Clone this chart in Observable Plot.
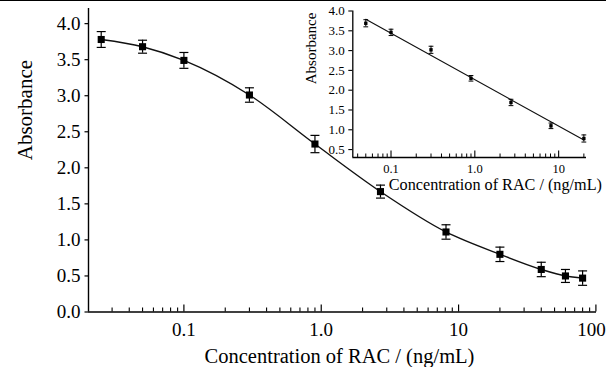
<!DOCTYPE html>
<html><head><meta charset="utf-8">
<script src="https://cdn.jsdelivr.net/npm/d3@7"></script>
<script src="https://cdn.jsdelivr.net/npm/@observablehq/plot@0.6"></script>
<style>
body{margin:0;background:#fff;}
#wrap{position:relative;width:606px;height:367px;overflow:hidden;background:#fff;}
#topline{position:absolute;left:0;top:0;width:606px;height:1px;background:#000;}
#main{position:absolute;left:0;top:0;}
#inset{position:absolute;left:290px;top:0;}
svg{background:transparent !important;}
</style></head><body>
<div id="wrap"><div id="main"></div><div id="inset"></div><div id="topline"></div></div>
<script>
// ---- data ----
const concMain = [0.025, 0.05, 0.1, 0.3, 0.9, 2.7, 8.1, 20, 40, 60, 80];
const absMain  = [3.78, 3.68, 3.49, 3.01, 2.33, 1.67, 1.11, 0.80, 0.59, 0.50, 0.47];
const errMain  = [0.11, 0.09, 0.11, 0.10, 0.12, 0.09, 0.10, 0.10, 0.10, 0.09, 0.10];

const concInset = [0.05, 0.1, 0.3, 0.9, 2.7, 8.1, 20];
const absInset  = [3.69, 3.46, 3.02, 2.30, 1.69, 1.10, 0.78];
const errInset  = [0.09, 0.08, 0.09, 0.07, 0.08, 0.07, 0.09];

const fitConc = [0.05, 20];
const fitAbs  = [3.79, 0.74];

const mainXTicks = [0.1, 1, 10, 100];
const mainXTickLabels = ["0.1", "1.0", "10", "100"];
const mainXMinor = [0.03,0.04,0.05,0.06,0.07,0.08,0.09, 0.2,0.3,0.4,0.5,0.6,0.7,0.8,0.9, 2,3,4,5,6,7,8,9, 20,30,40,50,60,70,80,90];
const mainYTicks = [0, 0.5, 1, 1.5, 2, 2.5, 3, 3.5, 4];
const mainYTickLabels = ["0.0","0.5","1.0","1.5","2.0","2.5","3.0","3.5","4.0"];

const insetXTicks = [0.1, 1, 10];
const insetXTickLabels = ["0.1", "1.0", "10"];
const insetXMinor = [0.04,0.05,0.06,0.07,0.08,0.09, 0.2,0.3,0.4,0.5,0.6,0.7,0.8,0.9, 2,3,4,5,6,7,8,9, 20];
const insetYTicks = [0.5, 1, 1.5, 2, 2.5, 3, 3.5, 4];
const insetYTickLabels = ["0.5","1.0","1.5","2.0","2.5","3.0","3.5","4.0"];

const xLabel = "Concentration of RAC / (ng/mL)";
const yLabel = "Absorbance";

// ---- tables ----
const mainData = concMain.map((c, i) => ({c, a: absMain[i], e: errMain[i]}));
const insetData = concInset.map((c, i) => ({c, a: absInset[i], e: errInset[i]}));
const fitData = fitConc.map((c, i) => ({c, a: fitAbs[i]}));

const capSymbol = {draw(ctx, size) { const r = Math.sqrt(size / Math.PI); ctx.moveTo(-r, 0); ctx.lineTo(r, 0); }};
const font = "'Liberation Serif', 'Times New Roman', serif";
const fmtMainX = d => mainXTickLabels[mainXTicks.indexOf(d)];

// ---- main chart ----
const W = 606, H = 367, mL = 88, mR = 10, mT = 8, mB = 55.5;
const plotH = H - mT - mB;
const xDomMain = [0.0202, 101], yDomMain = [0, 4.21];

const main = Plot.plot({
  width: W, height: H,
  marginLeft: mL, marginRight: mR, marginTop: mT, marginBottom: mB,
  style: {fontFamily: font, color: "#000", background: "transparent"},
  x: {type: "log", domain: xDomMain},
  y: {domain: yDomMain},
  marks: [
    Plot.axisY({ticks: mainYTicks, tickFormat: d => mainYTickLabels[mainYTicks.indexOf(d)], tickSize: 3.5, tickPadding: 4.5, fontSize: 19, label: null, strokeWidth: 1.2}),
    Plot.axisX({ticks: mainXTicks.slice(0, 3), tickFormat: fmtMainX, tickSize: 0, tickPadding: 10, fontSize: 19, label: null}),
    Plot.axisX({ticks: mainXTicks.slice(3), tickFormat: fmtMainX, tickSize: 0, tickPadding: 10, fontSize: 19, label: null, dx: -4.5}),
    Plot.tickX(mainXTicks, {x: d => d, insetTop: plotH - 7, strokeWidth: 1.2}),
    Plot.tickX(mainXMinor, {x: d => d, insetTop: plotH - 4, strokeWidth: 1.1}),
    Plot.ruleX([xDomMain[0]], {strokeWidth: 1.4}),
    Plot.ruleY([yDomMain[0]], {strokeWidth: 1.4}),
    Plot.line(mainData, {x: "c", y: "a", curve: "monotone-x", strokeWidth: 1.4, stroke: "#111"}),
    Plot.ruleX(mainData, {x: "c", y1: d => d.a - d.e, y2: d => d.a + d.e, strokeWidth: 1.2}),
    Plot.dot(mainData, {x: "c", y: d => d.a + d.e, symbol: capSymbol, r: 4.5, stroke: "#000", strokeWidth: 1.2}),
    Plot.dot(mainData, {x: "c", y: d => d.a - d.e, symbol: capSymbol, r: 4.5, stroke: "#000", strokeWidth: 1.2}),
    Plot.dot(mainData, {x: "c", y: "a", symbol: "square", r: 4, fill: "#000", stroke: null}),
    Plot.text([yLabel], {text: d => d, frameAnchor: "left", rotate: -90, dx: -63, fontSize: 21, lineAnchor: "middle"}),
    Plot.text([xLabel], {text: d => d, frameAnchor: "bottom", dy: 50.5, dx: -3, fontSize: 20.5, lineAnchor: "bottom"})
  ]
});
document.getElementById("main").appendChild(main);

// ---- inset chart ----
const iW = 316, iH = 195, iL = 62.3, iR = 20, iT = 10.5, iB = 38;
const iPlotH = iH - iT - iB;
const xDomInset = [0.035, 21.5], yDomInset = [0.3, 4.0];

const inset = Plot.plot({
  width: iW, height: iH,
  marginLeft: iL, marginRight: iR, marginTop: iT, marginBottom: iB,
  style: {fontFamily: font, color: "#000", background: "transparent"},
  x: {type: "log", domain: xDomInset},
  y: {domain: yDomInset},
  marks: [
    Plot.axisY({ticks: insetYTicks, tickFormat: d => insetYTickLabels[insetYTicks.indexOf(d)], tickSize: 4, tickPadding: 4, fontSize: 13, label: null, strokeWidth: 1.1}),
    Plot.axisX({ticks: insetXTicks, tickFormat: d => insetXTickLabels[insetXTicks.indexOf(d)], tickSize: 0, tickPadding: 6.5, fontSize: 12.5, label: null}),
    Plot.tickX(insetXTicks, {x: d => d, insetTop: iPlotH - 6.5, strokeWidth: 1.1}),
    Plot.tickX(insetXMinor, {x: d => d, insetTop: iPlotH - 3.5, strokeWidth: 1}),
    Plot.ruleX([xDomInset[0]], {strokeWidth: 1.3}),
    Plot.ruleY([yDomInset[0]], {strokeWidth: 1.3}),
    Plot.line(fitData, {x: "c", y: "a", strokeWidth: 1.2, stroke: "#111"}),
    Plot.ruleX(insetData, {x: "c", y1: d => d.a - d.e, y2: d => d.a + d.e, strokeWidth: 1}),
    Plot.dot(insetData, {x: "c", y: d => d.a + d.e, symbol: capSymbol, r: 2.4, stroke: "#000", strokeWidth: 1}),
    Plot.dot(insetData, {x: "c", y: d => d.a - d.e, symbol: capSymbol, r: 2.4, stroke: "#000", strokeWidth: 1}),
    Plot.dot(insetData, {x: "c", y: "a", symbol: "square", r: 1.9, fill: "#000", stroke: null}),
    Plot.text([yLabel], {text: d => d, frameAnchor: "left", rotate: -90, dx: -41.6, fontSize: 15, lineAnchor: "middle"}),
    Plot.text([xLabel], {text: d => d, frameAnchor: "bottom", dy: 32, dx: 25.7, fontSize: 16.2, lineAnchor: "bottom"})
  ]
});
document.getElementById("inset").appendChild(inset);
</script>
</body></html>
